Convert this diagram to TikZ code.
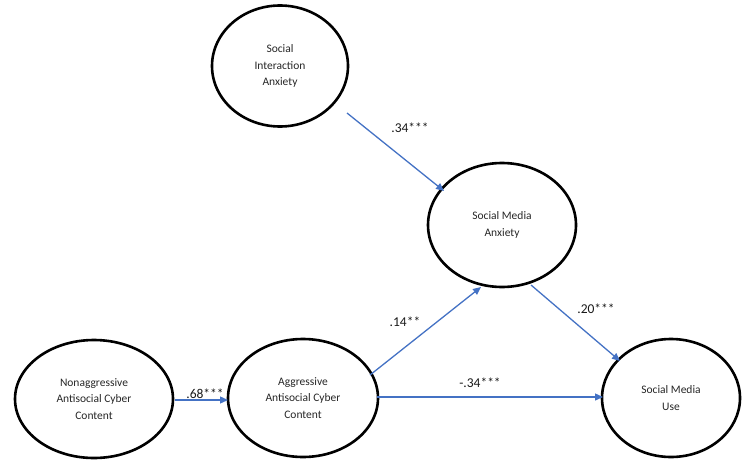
\documentclass[tikz,border=0pt]{standalone}
\usepackage{fontspec}
\setmainfont{Carlito}
\usetikzlibrary{arrows.meta,shapes.geometric}
\definecolor{arrowblue}{HTML}{4472C4}
\tikzset{
  latent/.style={draw=black, line width=2.6pt, ellipse, inner sep=0pt, align=center,
    font=\fontsize{11.5}{16.5}\selectfont, text=black!85},
  path/.style={draw=arrowblue, line width=1.3pt, -{Triangle[length=8pt,width=7pt]}},
  coef/.style={font=\fontsize{13.5}{15}\selectfont, text=black!90}
}
\begin{document}
\begin{tikzpicture}[x=1pt,y=-1pt]
\useasboundingbox (0,0) rectangle (743,460);
\node[latent, minimum width=136pt, minimum height=121pt] (sia) at (280,66) {Social\\Interaction\\Anxiety};
\node[latent, minimum width=148pt, minimum height=124pt] (sma) at (502,225) {Social Media\\Anxiety};
\node[latent, minimum width=158pt, minimum height=118pt] (nacc) at (94,399) {Nonaggressive\\Antisocial Cyber\\Content};
\node[latent, minimum width=150pt, minimum height=118pt] (acc) at (303,398) {Aggressive\\Antisocial Cyber\\Content};
\node[latent, minimum width=138pt, minimum height=118pt] (smu) at (671,398) {Social Media\\Use};

\coordinate (a1) at (347,113);
\coordinate (a2) at (444,191);
\draw[path] (a1) -- (a2);
\coordinate (b1) at (370,375);
\coordinate (b2) at (481,287);
\draw[path] (b1) -- (b2);
\coordinate (c1) at (531,285);
\coordinate (c2) at (620,361);
\draw[path] (c1) -- (c2);
\coordinate (d1) at (175,400);
\coordinate (d2) at (228,400);
\draw[path] (d1) -- (d2);
\coordinate (e1) at (377,397);
\coordinate (e2) at (603,397);
\draw[path] (e1) -- (e2);

\node[coef] (l1) at (410,128) {.34***};
\node[coef] (l2) at (405,322) {.14**};
\node[coef] (l3) at (596,309) {.20***};
\node[coef] (l4) at (205,394) {.68***};
\node[coef] (l5) at (480,383) {-.34***};
\end{tikzpicture}
\end{document}
